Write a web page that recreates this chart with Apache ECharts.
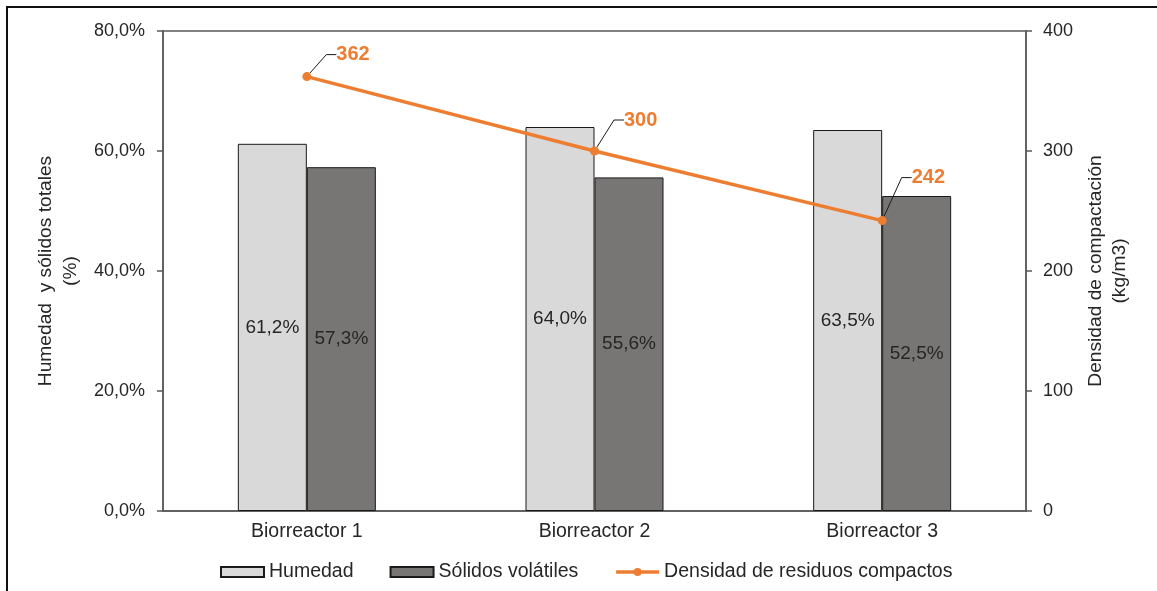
<!DOCTYPE html>
<html>
<head>
<meta charset="utf-8">
<script src="https://cdn.jsdelivr.net/npm/echarts@6/dist/echarts.min.js"></script>
<style>
  html, body { margin: 0; padding: 0; background: #fff; }
  #frame { position: absolute; left: 6px; top: 6px; width: 1151px; height: 585px;
           border-top: 2px solid #111; border-left: 2px solid #111; }
  #chart { position: absolute; left: 0; top: 0; width: 1157px; height: 591px; }
</style>
</head>
<body>
<div id="frame"></div>
<div id="chart"></div>
<script>
// Categories and series values
const categories = ['Biorreactor 1', 'Biorreactor 2', 'Biorreactor 3'];
const humedad = [61.2, 64.0, 63.5];            // %
const solidosVolatiles = [57.3, 55.6, 52.5];   // %
const densidad = [362, 300, 242];              // kg/m3
const leftTicks = { min: 0, max: 80, interval: 20 };
const rightTicks = { min: 0, max: 400, interval: 100 };

const FONT = '"Liberation Sans", Arial, sans-serif';
const TXT = '#262626';
const AXIS = '#595959';
const ORANGE = '#ED7D31';

const fmtPct = v => v.toFixed(1).replace('.', ',') + '%';

// vertical offsets of the line value labels, per point
const lineLabelDy = [-22, -31, -43];

const chart = echarts.init(document.getElementById('chart'), null, { renderer: 'canvas' });

chart.setOption({
  backgroundColor: 'transparent',
  animation: false,
  textStyle: { fontFamily: FONT },
  grid: {
    left: 163, right: 131, top: 31, bottom: 80,
    show: true, borderColor: AXIS, borderWidth: 1.5, backgroundColor: 'transparent'
  },
  legend: {
    left: 215, top: 557,
    itemWidth: 43, itemHeight: 10, itemGap: 36,
    textStyle: { fontFamily: FONT, fontSize: 19.5, color: TXT },
    data: [
      { name: 'Humedad', icon: 'rect' },
      { name: 'Sólidos volátiles', icon: 'rect' },
      { name: 'Densidad de residuos compactos', lineStyle: { width: 3.5, color: ORANGE } }
    ]
  },
  xAxis: {
    type: 'category',
    data: categories,
    axisLine: { lineStyle: { color: AXIS, width: 1.5 } },
    axisTick: { show: false },
    axisLabel: { color: TXT, fontSize: 19.5, fontFamily: FONT, margin: 11 }
  },
  yAxis: [
    {
      type: 'value',
      min: leftTicks.min, max: leftTicks.max, interval: leftTicks.interval,
      name: 'Humedad  y sólidos totales\n(%)',
      nameLocation: 'middle', nameGap: 78,
      nameTextStyle: { color: TXT, fontSize: 19.2, fontFamily: FONT, lineHeight: 25, align: 'center' },
      axisLine: { show: true, lineStyle: { color: AXIS, width: 1.5 } },
      axisTick: { show: true, length: 6, lineStyle: { color: AXIS, width: 1.5 } },
      splitLine: { show: false },
      axisLabel: { color: TXT, fontSize: 18, fontFamily: FONT, margin: 18, formatter: v => fmtPct(v) }
    },
    {
      type: 'value',
      min: rightTicks.min, max: rightTicks.max, interval: rightTicks.interval,
      position: 'right',
      name: 'Densidad de compactación\n(kg/m3)',
      nameLocation: 'middle', nameGap: 56,
      nameTextStyle: { color: TXT, fontSize: 19.2, fontFamily: FONT, lineHeight: 24, align: 'center' },
      axisLine: { show: true, lineStyle: { color: AXIS, width: 1.5 } },
      axisTick: { show: true, length: 6, lineStyle: { color: AXIS, width: 1.5 } },
      splitLine: { show: false },
      axisLabel: { color: TXT, fontSize: 18, fontFamily: FONT, margin: 17 }
    }
  ],
  series: [
    {
      name: 'Humedad',
      type: 'bar',
      yAxisIndex: 0,
      data: humedad,
      barWidth: 69,
      barGap: '0%',
      itemStyle: { color: '#D9D9D9', borderColor: '#1a1a1a', borderWidth: 1 },
      label: { show: true, position: 'inside', color: TXT, fontSize: 19, fontFamily: FONT,
               formatter: p => fmtPct(p.value) }
    },
    {
      name: 'Sólidos volátiles',
      type: 'bar',
      yAxisIndex: 0,
      data: solidosVolatiles,
      barWidth: 69,
      barGap: '0%',
      itemStyle: { color: '#787575', borderColor: '#1a1a1a', borderWidth: 1 },
      label: { show: true, position: 'inside', color: TXT, fontSize: 19, fontFamily: FONT,
               formatter: p => fmtPct(p.value) }
    },
    {
      name: 'Densidad de residuos compactos',
      type: 'line',
      yAxisIndex: 1,
      data: densidad,
      symbol: 'circle',
      symbolSize: 9,
      z: 5,
      lineStyle: { color: ORANGE, width: 3.5 },
      itemStyle: { color: ORANGE },
      label: { show: true, position: 'right', color: ORANGE, fontSize: 20,
               fontWeight: 'bold', fontFamily: FONT, padding: [0, 0, 0, 5] },
      labelLine: { show: true, length2: 10, lineStyle: { color: '#1a1a1a', width: 1 } },
      labelLayout: p => ({ dx: 15, dy: lineLabelDy[p.dataIndex] })
    }
  ]
});
</script>
</body>
</html>
